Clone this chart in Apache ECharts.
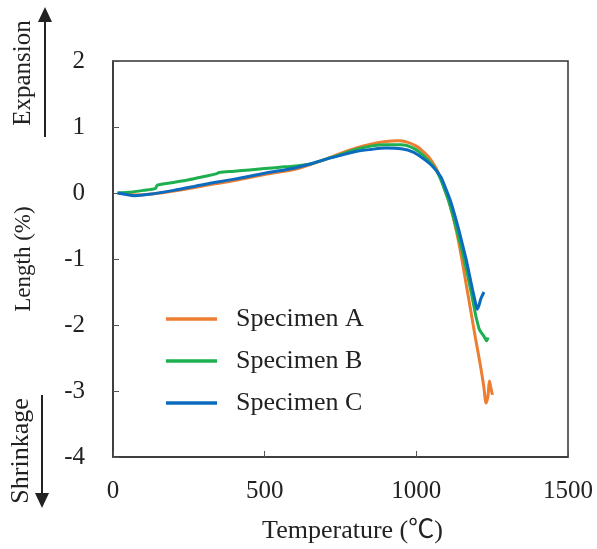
<!DOCTYPE html>
<html>
<head>
<meta charset="utf-8">
<script src="https://cdn.jsdelivr.net/npm/echarts@6/dist/echarts.min.js"></script>
<style>
html,body{margin:0;padding:0;background:#fff;}
#chart{width:597px;height:549px;}
</style>
</head>
<body>
<div id="chart"></div>
<script>
// ---- Data ----
var seriesNames = ['Specimen A', 'Specimen B', 'Specimen C'];
var xTicks = [0, 500, 1000, 1500];
var yTicks = [-4, -3, -2, -1, 0, 1, 2];

var specimenA = [
  [20, 0.00], [50, -0.02], [80, -0.03], [120, -0.02], [200, 0.03], [300, 0.11],
  [400, 0.19], [500, 0.28], [600, 0.36], [650, 0.43], [700, 0.51], [750, 0.60],
  [800, 0.68], [850, 0.74], [900, 0.78], [940, 0.79], [970, 0.77], [1000, 0.71],
  [1020, 0.64], [1040, 0.55], [1062, 0.40], [1080, 0.23], [1095, 0.03], [1108, -0.14],
  [1120, -0.34], [1135, -0.64], [1150, -1.00], [1165, -1.40], [1180, -1.80],
  [1195, -2.20], [1210, -2.58], [1222, -2.92], [1230, -3.18], [1236, -3.08],
  [1241, -2.85], [1246, -2.96], [1251, -3.06]
];
var specimenB = [
  [15, 0.00], [50, 0.01], [100, 0.04], [140, 0.07], [146, 0.12], [200, 0.16],
  [250, 0.20], [300, 0.25], [340, 0.29], [350, 0.31], [400, 0.33], [450, 0.35],
  [500, 0.37], [550, 0.39], [600, 0.41], [650, 0.44], [700, 0.51], [750, 0.58],
  [800, 0.66], [850, 0.71], [900, 0.73], [950, 0.73], [990, 0.68], [1020, 0.58],
  [1050, 0.44], [1065, 0.35], [1080, 0.21], [1095, 0.03], [1106, -0.11],
  [1120, -0.33], [1135, -0.59], [1148, -0.82], [1160, -1.05], [1172, -1.31],
  [1185, -1.60], [1196, -1.86], [1203, -1.99], [1208, -2.07], [1215, -2.12],
  [1224, -2.18], [1232, -2.24], [1236, -2.19]
];
var specimenC = [
  [15, 0.00], [40, -0.02], [70, -0.04], [120, -0.02], [200, 0.04], [300, 0.13],
  [400, 0.21], [500, 0.30], [600, 0.38], [650, 0.44], [700, 0.51], [750, 0.57],
  [800, 0.63], [850, 0.66], [900, 0.68], [950, 0.67], [990, 0.62], [1020, 0.53],
  [1050, 0.42], [1080, 0.25], [1095, 0.09], [1111, -0.10], [1125, -0.31],
  [1140, -0.56], [1152, -0.78], [1164, -1.00], [1175, -1.24], [1186, -1.48],
  [1195, -1.66], [1201, -1.76], [1206, -1.71], [1213, -1.60], [1223, -1.50]
];

var colors = ['#ED7D31', '#1DAF50', '#0C6BBF'];
var serif = '"Liberation Serif", "Times New Roman", "Noto Sans CJK JP", serif';

var chart = echarts.init(document.getElementById('chart'), null, {renderer: 'canvas'});

function mkSeries(name, data, color) {
  return {
    name: name, type: 'line', data: data, showSymbol: false, symbol: 'none',
    smooth: 0.3, lineStyle: {color: color, width: 3}, itemStyle: {color: color},
    emphasis: {disabled: true}, animation: false, z: 3
  };
}

var option = {
  animation: false,
  backgroundColor: '#ffffff',
  grid: {left: 113, top: 61, right: 29, bottom: 91, show: true,
         borderColor: '#333', borderWidth: 1.5, backgroundColor: 'transparent'},
  xAxis: {
    type: 'value', min: xTicks[0], max: xTicks[xTicks.length - 1], interval: 500,
    name: 'Temperature (\u2103)', nameLocation: 'middle', nameGap: 61,
    nameTextStyle: {fontFamily: serif, fontSize: 26, color: '#222', padding: [0, 0, 0, 24]},
    axisLine: {show: true, onZero: false, lineStyle: {color: '#333', width: 1.5}},
    axisTick: {show: true, inside: true, length: 6, lineStyle: {color: '#555', width: 1}},
    axisLabel: {fontFamily: serif, fontSize: 25, color: '#222', margin: 22,
                formatter: function (v) { return String(v); }},
    splitLine: {show: false}
  },
  yAxis: {
    type: 'value', min: yTicks[0], max: yTicks[yTicks.length - 1], interval: 1,
    name: 'Length (%)', nameLocation: 'middle', nameGap: 78, nameRotate: 90,
    nameTextStyle: {fontFamily: serif, fontSize: 23, color: '#222'},
    axisLine: {show: true, onZero: false, lineStyle: {color: '#333', width: 1.5}},
    axisTick: {show: true, inside: true, length: 6, lineStyle: {color: '#555', width: 1}},
    axisLabel: {fontFamily: serif, fontSize: 25, color: '#222', margin: 28,
                formatter: function (v) { return String(v); }},
    splitLine: {show: false}
  },
  legend: {
    data: seriesNames.map(function (n) { return {name: n, icon: 'rect'}; }),
    orient: 'vertical', left: 161, top: 301,
    itemWidth: 51, itemHeight: 3.5, itemGap: 16,
    textStyle: {fontFamily: serif, fontSize: 26, color: '#222', padding: [0, 0, 0, 14], lineHeight: 26},
    selectedMode: false
  },
  graphic: [
    {type: 'text', x: 23, y: 73, rotation: Math.PI / 2,
     style: {text: 'Expansion', font: '25px ' + serif, fill: '#222', align: 'center', verticalAlign: 'middle'}},
    {type: 'line', shape: {x1: 45, y1: 137, x2: 45, y2: 20}, style: {stroke: '#222', lineWidth: 2}},
    {type: 'polygon', shape: {points: [[45, 7], [38, 22], [52, 22]]}, style: {fill: '#222'}},
    {type: 'text', x: 21, y: 451, rotation: Math.PI / 2,
     style: {text: 'Shrinkage', font: '26px ' + serif, fill: '#222', align: 'center', verticalAlign: 'middle'}},
    {type: 'line', shape: {x1: 42, y1: 395, x2: 42, y2: 495}, style: {stroke: '#222', lineWidth: 2}},
    {type: 'polygon', shape: {points: [[42, 508], [35, 493], [49, 493]]}, style: {fill: '#222'}}
  ],
  series: [
    mkSeries(seriesNames[0], specimenA, colors[0]),
    mkSeries(seriesNames[1], specimenB, colors[1]),
    mkSeries(seriesNames[2], specimenC, colors[2])
  ]
};
chart.setOption(option);
</script>
</body>
</html>
